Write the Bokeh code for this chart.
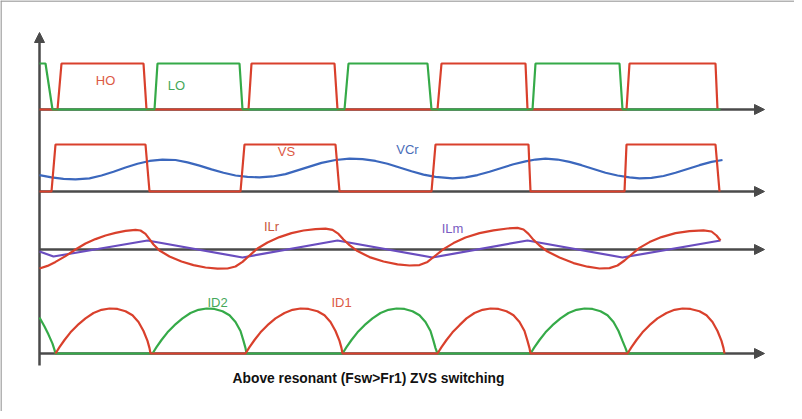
from bokeh.plotting import figure
from bokeh.models import Range1d, Label, Arrow, NormalHead, Span
from bokeh.embed import file_html
from bokeh.resources import INLINE

# ---------------- data (time in arbitrary units, values normalised) ----------------
# Row 1: gate drives
ho_t = [0, 18, 22, 104, 107, 209, 212, 295, 298, 398, 402, 486, 488, 587, 590, 676, 678]
ho_v = [0, 0, 1, 1, 0, 0, 1, 1, 0, 0, 1, 1, 0, 0, 1, 1, 0]
lo_t = [0, 6, 13, 115, 118, 200, 203, 305, 309, 388, 392, 493, 496, 580, 583, 681]
lo_v = [1, 1, 0, 0, 1, 1, 0, 0, 1, 1, 0, 0, 1, 1, 0, 0]

# Row 2: half-bridge midpoint voltage and resonant capacitor voltage
vs_t = [0, 12, 16, 106, 110, 201, 205, 296, 300, 392, 396, 489, 491, 585, 587, 676, 680]
vs_v = [0, 0, 1, 1, 0, 0, 1, 1, 0, 0, 1, 1, 0, 0, 1, 1, 0]
vcr_t = [0, 12, 24, 36, 50, 62, 74, 86, 98, 110, 123, 136, 148, 160, 172, 184, 196, 208, 220,
         233, 246, 258, 270, 282, 296, 310, 323, 336, 348, 360, 372, 384, 396, 413, 426, 438,
         450, 462, 474, 486, 496, 506, 518, 530, 542, 554, 566, 578, 590, 600, 612, 624, 636,
         648, 660, 672, 683]
vcr_v = [0.35, 0.30, 0.27, 0.26, 0.28, 0.34, 0.42, 0.51, 0.59, 0.65, 0.68, 0.67, 0.62, 0.55,
         0.47, 0.40, 0.34, 0.31, 0.30, 0.32, 0.37, 0.45, 0.53, 0.61, 0.67, 0.70, 0.69, 0.65,
         0.59, 0.51, 0.43, 0.36, 0.31, 0.28, 0.30, 0.35, 0.42, 0.50, 0.58, 0.64, 0.68, 0.70,
         0.68, 0.63, 0.56, 0.48, 0.40, 0.34, 0.30, 0.28, 0.29, 0.33, 0.40, 0.48, 0.56, 0.63, 0.67]

# Row 3: resonant inductor current and magnetising current
ilr_t = [0, 8, 16, 26, 36, 46, 56, 66, 76, 86, 96, 101, 106, 110, 114, 120, 130, 142, 154, 166,
         178, 188, 196, 203, 210, 218, 228, 240, 252, 264, 276, 286, 293, 299, 304, 310, 318,
         330, 344, 358, 370, 380, 388, 396, 404, 414, 426, 440, 454, 468, 478, 484, 489, 494,
         500, 508, 520, 534, 548, 560, 570, 578, 585, 592, 600, 610, 622, 636, 650, 664, 672,
         677, 681]
ilr_v = [-0.95, -0.82, -0.62, -0.33, 0.0, 0.3, 0.52, 0.7, 0.83, 0.93, 0.98, 0.95, 0.78, 0.52,
         0.25, -0.05, -0.35, -0.6, -0.78, -0.9, -0.96, -0.95, -0.85, -0.62, -0.3, 0.05, 0.35,
         0.62, 0.82, 0.95, 1.02, 1.04, 0.98, 0.78, 0.5, 0.22, -0.08, -0.38, -0.6, -0.74, -0.8,
         -0.78, -0.62, -0.3, 0.02, 0.32, 0.6, 0.82, 0.96, 1.05, 1.08, 1.0, 0.78, 0.48, 0.2,
         -0.1, -0.4, -0.68, -0.86, -0.95, -0.93, -0.8, -0.55, -0.25, 0.08, 0.37, 0.62, 0.82,
         0.92, 0.96, 0.9, 0.7, 0.45]
ilm_t = [0, 14, 108, 203, 298, 393, 488, 583, 681]
ilm_v = [-0.1, -0.35, 0.45, -0.4, 0.45, -0.4, 0.45, -0.4, 0.45]

# Row 4: output rectifier diode currents
id1_t = [16, 20, 25, 31, 38, 46, 54, 62, 70, 78, 86, 93, 99, 104, 108, 110, 111,
         206, 210, 215, 221, 228, 236, 245, 253, 261, 269, 278, 285, 291, 296, 300, 302, 303,
         398, 402, 407, 413, 420, 427, 435, 443, 451, 459, 467, 474, 480, 485, 488, 490, 491,
         588, 592, 597, 603, 610, 618, 627, 635, 643, 651, 660, 667, 673, 678, 682, 684, 685]
id1_v = [0, 0.14, 0.3, 0.47, 0.63, 0.78, 0.9, 0.97, 1.0, 0.99, 0.94, 0.85, 0.7, 0.5, 0.28, 0.12, 0,
         0, 0.14, 0.3, 0.47, 0.63, 0.78, 0.9, 0.97, 1.0, 0.99, 0.94, 0.85, 0.7, 0.5, 0.28, 0.12, 0,
         0, 0.14, 0.3, 0.47, 0.63, 0.78, 0.9, 0.97, 1.0, 0.99, 0.94, 0.85, 0.7, 0.5, 0.28, 0.12, 0,
         0, 0.14, 0.3, 0.47, 0.63, 0.78, 0.9, 0.97, 1.0, 0.99, 0.94, 0.85, 0.7, 0.5, 0.28, 0.12, 0]
id2_t = [0, 5, 9, 13, 15, 16,
         113, 117, 122, 128, 135, 143, 151, 159, 167, 175, 183, 190, 196, 201, 204, 206, 207,
         303, 307, 312, 318, 325, 333, 341, 349, 357, 365, 373, 380, 386, 391, 394, 396, 398,
         491, 495, 500, 506, 513, 521, 529, 537, 545, 553, 561, 568, 574, 579, 583, 586, 588,
         685]
id2_v = [0.8, 0.6, 0.42, 0.22, 0.08, 0,
         0, 0.14, 0.3, 0.47, 0.63, 0.78, 0.9, 0.97, 1.0, 0.99, 0.94, 0.85, 0.7, 0.5, 0.28, 0.12, 0,
         0, 0.14, 0.3, 0.47, 0.63, 0.78, 0.9, 0.97, 1.0, 0.99, 0.94, 0.85, 0.7, 0.5, 0.28, 0.12, 0,
         0, 0.14, 0.3, 0.47, 0.63, 0.78, 0.9, 0.97, 1.0, 0.99, 0.94, 0.85, 0.7, 0.5, 0.28, 0.12, 0,
         0]

t_end = 725          # end of the time axes (arrow tips)
title_text = "Above resonant (Fsw>Fr1) ZVS switching"

# ---------------- layout ----------------
W, H = 794, 411
TOP, BOT = 8, 8 + H          # page pixel rows of the canvas

RED = "#d9402c"
GREEN = "#35aa48"
BLUE = "#3b67bd"
PURPLE = "#6a4dbf"
AXIS = "#4a4a4a"


def row_range(base_px, unit_px):
    return Range1d(start=(base_px - BOT) / unit_px, end=(base_px - TOP) / unit_px)


p = figure(width=W, height=H, output_backend="svg", toolbar_location=None,
           x_range=Range1d(-39, 755), y_range=Range1d(BOT, TOP),
           x_axis_type=None, y_axis_type=None, min_border=0)
p.grid.visible = False
p.outline_line_color = None
p.background_fill_color = "white"

p.extra_y_ranges = {
    "gate": row_range(117, 46),
    "vs": row_range(199, 47),
    "il": row_range(257, 20),
    "id": row_range(361, 45),
}

# frame border (left and top)
p.add_layout(Span(location=-38.5, dimension="height", line_color="#9a9a9a", line_width=1.5))
p.add_layout(Span(location=TOP + 0.5, dimension="width", line_color="#9a9a9a", line_width=1.5))

# axes
for base in (117, 199, 257, 361):
    p.add_layout(Arrow(x_start=0, y_start=base, x_end=t_end, y_end=base,
                       line_color=AXIS, line_width=2.5, level="underlay",
                       end=NormalHead(size=10, fill_color=AXIS, line_color=AXIS)))
p.add_layout(Arrow(x_start=0, y_start=373, x_end=0, y_end=40,
                   line_color=AXIS, line_width=2.5, level="underlay",
                   end=NormalHead(size=10, fill_color=AXIS, line_color=AXIS)))

LW = 2.2
p.line(ho_t, ho_v, y_range_name="gate", line_color=RED, line_width=LW)
p.line(lo_t, lo_v, y_range_name="gate", line_color=GREEN, line_width=LW)
p.line(vcr_t, vcr_v, y_range_name="vs", line_color=BLUE, line_width=LW)
p.line(vs_t, vs_v, y_range_name="vs", line_color=RED, line_width=LW)
p.line(ilm_t, ilm_v, y_range_name="il", line_color=PURPLE, line_width=LW)
p.line(ilr_t, ilr_v, y_range_name="il", line_color=RED, line_width=LW)
p.line(id2_t, id2_v, y_range_name="id", line_color=GREEN, line_width=LW)
p.line(id1_t, id1_v, y_range_name="id", line_color=RED, line_width=LW)

FONT = "Liberation Sans"


def lab(x, y, text, color, size="13px", bold=False):
    p.add_layout(Label(x=x, y=y, text=text, text_color=color, text_font=FONT,
                       text_font_size=size, text_align="center", text_baseline="middle",
                       text_font_style="bold" if bold else "normal"))


lab(113 - 47, 88, "HO", "#dc5a45")
lab(184 - 47, 93, "LO", "#45a85a")
lab(294 - 47, 159, "VS", "#dc5a45")
lab(415 - 47, 157, "VCr", "#4a6db8")
lab(279 - 47, 234, "ILr", "#c9573d")
lab(460 - 47, 236, "ILm", "#7a5cc2")
lab(225 - 47, 310, "ID2", "#45a85a")
lab(349 - 47, 310, "ID1", "#dc5a45")
lab(376 - 47, 386, title_text, "#111111", size="13.8px", bold=True)

open("out.html", "w").write(file_html(p, INLINE))
